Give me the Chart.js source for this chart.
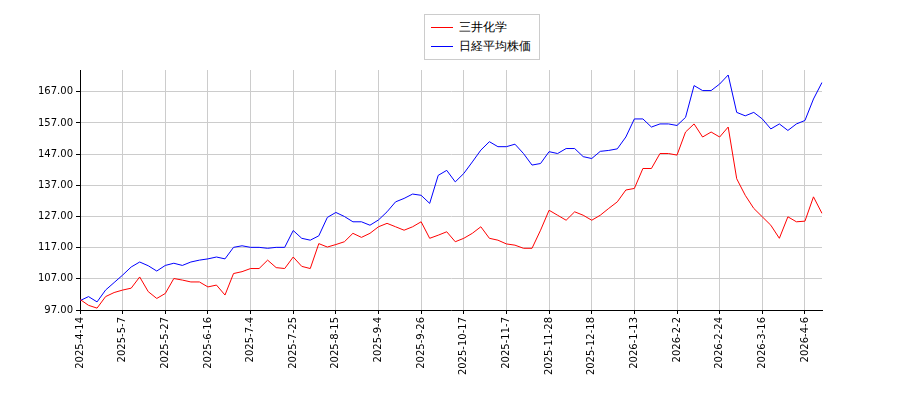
<!DOCTYPE html>
<html><head><meta charset="utf-8">
<script src="https://cdn.jsdelivr.net/npm/chart.js@4"></script>
<style>
body{margin:0;background:#fff;font-family:"DejaVu Sans",sans-serif}
#wrap{position:relative;width:900px;height:400px}
#legend{position:absolute;left:424px;top:14px;width:116px;border:1px solid #ccc;background:#fff;font-size:12px;padding:3px 6px;box-sizing:border-box}
#legend div{display:flex;align-items:center;height:19px}
#legend span.l{display:inline-block;width:22px;height:0;border-top:1.5px solid;margin-right:6px}
</style></head><body>
<div id="wrap"><canvas id="c" width="900" height="400"></canvas>
<div id="legend"><div><span class="l" style="border-color:#f00"></span>三井化学</div><div><span class="l" style="border-color:#00f"></span>日経平均株価</div></div></div>
<script>
const tickDates=["2025-4-14","2025-5-7","2025-5-27","2025-6-16","2025-7-4","2025-7-25","2025-8-15","2025-9-4","2025-9-26","2025-10-17","2025-11-7","2025-11-28","2025-12-18","2026-1-13","2026-2-2","2026-2-24","2026-3-16","2026-4-6"];
const mitsui=[100.4,98.5,97.6,101.3,102.6,103.4,104,107.6,102.9,100.7,102.3,107.1,106.6,106,106,104.4,105,101.8,108.7,109.3,110.3,110.3,113,110.6,110.3,114,111,110.3,118.3,117.2,118,118.9,121.6,120.3,121.6,123.7,124.8,123.7,122.6,123.7,125.3,120,121,122.1,118.9,120,121.6,123.7,120,119.4,118.2,117.8,116.8,116.8,122.6,129,127.4,125.8,128.5,127.4,125.8,127.4,129.6,131.7,135.5,136,142.4,142.4,147.2,147.2,146.7,154.1,156.7,152.5,154.1,152.5,155.7,139.1,133.8,129.6,126.9,124.2,120,126.9,125.3,125.5,133.3,128];
const nikkei=[100,101.3,99.6,103.4,105.8,108.2,110.8,112.4,111.2,109.5,111.3,112,111.3,112.4,113,113.4,114,113.4,117.1,117.6,117.1,117.1,116.8,117.1,117.1,122.5,120,119.4,120.8,126.7,128.3,127,125.3,125.3,124.2,125.9,128.5,131.7,132.8,134.2,133.8,131.2,140.2,141.8,138.1,140.8,144.5,148.3,151,149.4,149.4,150.2,147.2,143.5,144,147.8,147.2,148.8,148.8,146.2,145.6,147.9,148.2,148.7,152.5,158.3,158.3,155.7,156.7,156.7,156.2,158.8,169,167.4,167.4,169.5,172.4,160.4,159.3,160.4,158.3,155.1,156.7,154.6,156.7,157.8,164.7,170];
const labels=mitsui.map((v,i)=>i%5===0?(tickDates[i/5]||""):"");
const yTicks=[97,107,117,127,137,147,157,167];
new Chart(document.getElementById('c'),{type:'line',
data:{labels:labels,datasets:[
{label:'三井化学',data:mitsui,borderColor:'#f00',borderWidth:1,pointRadius:0,tension:0},
{label:'日経平均株価',data:nikkei,borderColor:'#00f',borderWidth:1,pointRadius:0,tension:0}]},
options:{animation:false,responsive:false,
layout:{padding:{top:70,right:78,left:0,bottom:0}},
plugins:{legend:{display:false},tooltip:{enabled:false}},
scales:{
x:{offset:false,grid:{color:c=>labels[c.index]?'#ccc':'transparent',drawTicks:true,tickLength:4,tickColor:c=>labels[c.index]?'#000':'transparent'},border:{color:'#000'},
ticks:{autoSkip:false,maxRotation:90,minRotation:90,color:'#000',font:{family:'DejaVu Sans',size:10},callback:(v,i)=>labels[i]},afterFit:s=>{s.height=90}},
y:{min:97,max:174,grid:{color:'#ccc',tickLength:4,tickColor:'#000'},border:{color:'#000'},
afterBuildTicks:s=>{s.ticks=yTicks.map(v=>({value:v}))},
ticks:{color:'#000',font:{family:'DejaVu Sans',size:10},callback:v=>Number(v).toFixed(2)},afterFit:s=>{s.width=80}}
}}});
</script></body></html>
